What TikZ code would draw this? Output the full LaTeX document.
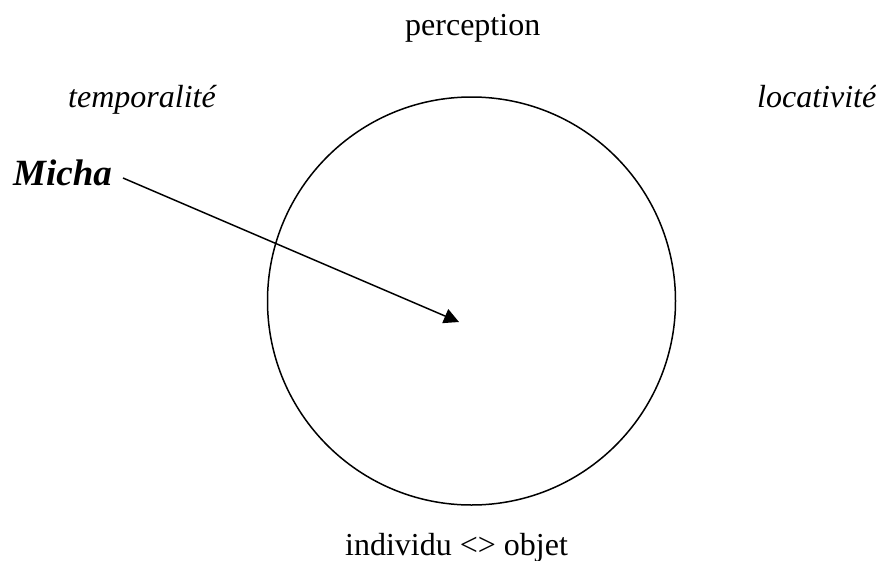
\documentclass[tikz,border=0pt]{standalone}
\usepackage{fontspec}
\setmainfont{Liberation Serif}
\usetikzlibrary{arrows.meta}
\begin{document}
\begin{tikzpicture}[x=1pt,y=-1pt,
  lbl/.style={inner sep=0pt,anchor=base west,font=\fontsize{32}{38}\selectfont},
  ilbl/.style={lbl,font=\fontsize{32}{38}\selectfont\itshape},
  line/.style={line width=1.5pt}]
\useasboundingbox (0,0) rectangle (876,560);
\node[lbl] (perc) at (405,35) {perception};
\node[ilbl] (temp) at (68,107) {temporalité};
\node[ilbl] (loc) at (757,107) {locativité};
\node[lbl,font=\fontsize{37}{44}\selectfont\bfseries\itshape] (micha) at (13,185) {Micha};
\node[lbl] (indiv) at (345,555) {individu <> objet};
\node[line,draw,circle,minimum size=408pt,inner sep=0pt] (circ) at (471.5,301) {};
\coordinate (start) at (123,178);
\coordinate (tip) at (459,322);
\draw[line,-{Triangle[length=15pt,width=15pt]}] (start) -- (tip);
\end{tikzpicture}
\end{document}
